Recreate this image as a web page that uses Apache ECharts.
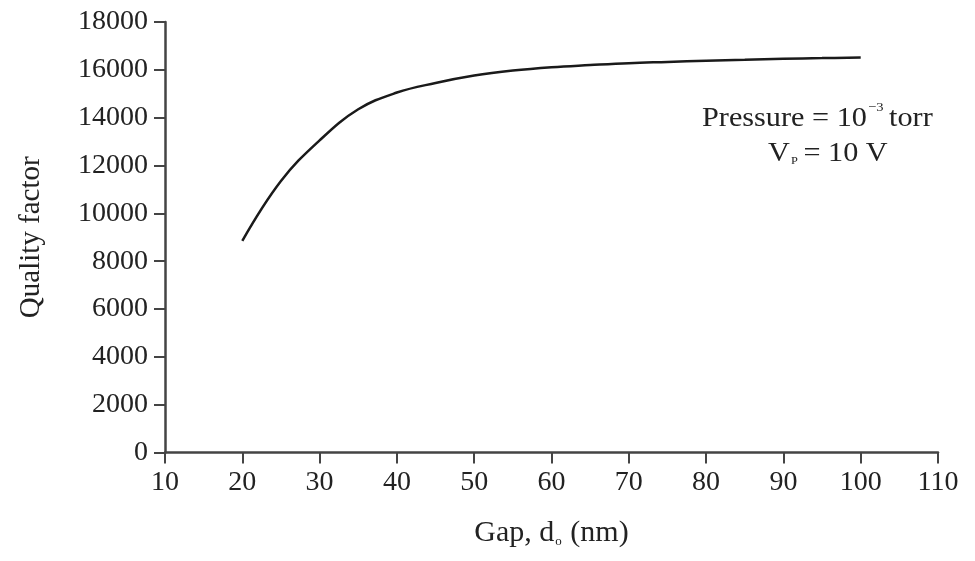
<!DOCTYPE html>
<html>
<head>
<meta charset="utf-8">
<script src="https://cdn.jsdelivr.net/npm/echarts@6/dist/echarts.min.js"></script>
<style>html,body{margin:0;padding:0;background:#fff}#c{width:975px;height:561px}</style>
</head>
<body>
<div id="c"></div>
<script>
const gapNm = [20, 25, 30, 35, 40, 45, 50, 55, 60, 65, 70, 75, 80, 85, 90, 95, 100];
const qualityFactor = [8850, 11350, 13050, 14350, 15050, 15450, 15760, 15970, 16110, 16200, 16280, 16330, 16380, 16420, 16460, 16490, 16520];
const xTicks = [10, 20, 30, 40, 50, 60, 70, 80, 90, 100, 110];
const yTicks = [0, 2000, 4000, 6000, 8000, 10000, 12000, 14000, 16000, 18000];

const FONT = 'Liberation Serif';
const axisCol = '#444';
const txtCol = '#222';
const chart = echarts.init(document.getElementById('c'), null, {renderer: 'canvas'});
chart.setOption({
  animation: false,
  backgroundColor: '#fff',
  grid: {left: 165, right: 37, top: 22, bottom: 108.5},
  xAxis: {
    type: 'value', min: xTicks[0], max: xTicks[xTicks.length - 1], interval: 10,
    axisLine: {lineStyle: {color: axisCol, width: 2.5}},
    axisTick: {inside: false, length: 11, lineStyle: {color: axisCol, width: 2}},
    splitLine: {show: false},
    axisLabel: {fontFamily: FONT, fontSize: 28, color: txtCol, margin: 16, formatter: v => String(v)},
    name: '{n|Gap, d}{s|o}{n| (nm)}',
    nameLocation: 'middle', nameGap: 66,
    nameTextStyle: {rich: {
      n: {fontFamily: FONT, fontSize: 30, color: txtCol},
      s: {fontFamily: FONT, fontSize: 13, color: txtCol, padding: [16, 1, 0, 1]}
    }}
  },
  yAxis: {
    type: 'value', min: yTicks[0], max: yTicks[yTicks.length - 1], interval: 2000,
    axisLine: {show: true, lineStyle: {color: axisCol, width: 2.5}},
    axisTick: {show: true, inside: false, length: 11, lineStyle: {color: axisCol, width: 2}},
    splitLine: {show: false},
    axisLabel: {fontFamily: FONT, fontSize: 28, color: txtCol, margin: 17, formatter: v => String(v)},
    name: 'Quality factor', nameLocation: 'middle', nameGap: 119,
    nameTextStyle: {fontFamily: FONT, fontSize: 29, color: txtCol}
  },
  series: [{
    type: 'line', smooth: 0.4, showSymbol: false,
    data: gapNm.map((g, i) => [g, qualityFactor[i]]),
    lineStyle: {color: '#1a1a1a', width: 2.5}
  }],
  graphic: [
    {type: 'text', x: 702, y: 101, scaleX: 1.12, style: {
      text: '{n|Pressure = 10}{sup|−3}{n|torr}',
      rich: {
        n: {fontFamily: FONT, fontSize: 27, fill: txtCol, lineHeight: 34},
        sup: {fontFamily: FONT, fontSize: 13, fill: txtCol, padding: [0, 5, 22, 1]}
      }
    }},
    {type: 'text', x: 768, y: 137, scaleX: 1.12, style: {
      text: '{n|V}{sub|P}{n|= 10 V}',
      rich: {
        n: {fontFamily: FONT, fontSize: 27, fill: txtCol, lineHeight: 34},
        sub: {fontFamily: FONT, fontSize: 11, fill: txtCol, padding: [14, 5, 0, 1]}
      }
    }}
  ]
});
</script>
</body>
</html>
